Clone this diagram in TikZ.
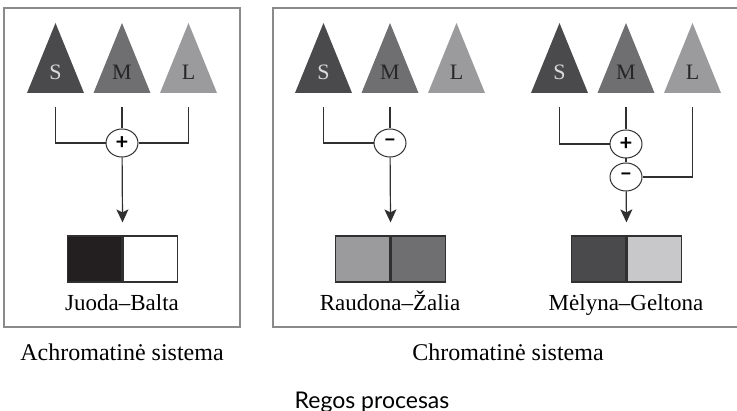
\documentclass[tikz,border=0pt]{standalone}
\usepackage{fontspec}
\setmainfont{Liberation Serif}
\newfontfamily\gillfont{Lato}
\usetikzlibrary{arrows.meta, positioning, shapes.geometric}

\definecolor{coneS}{HTML}{4A4A4C}
\definecolor{coneM}{HTML}{6F6F71}
\definecolor{coneL}{HTML}{9B9B9D}
\definecolor{swBlack}{HTML}{231F20}
\definecolor{swLight}{HTML}{C8C8CA}
\definecolor{frameGray}{HTML}{8A8A8A}
\definecolor{wireGray}{HTML}{303030}

\begin{document}
\begin{tikzpicture}[
    x=0.5pt, y=-0.5pt,
    >={Stealth[length=6.5pt, width=6pt, inset=1.5pt]},
    font=\fontsize{11.5}{13}\selectfont,
    conetext/.style={font=\fontsize{11}{12}\selectfont, inner sep=0pt},
    sign/.style={draw=wireGray, ellipse, fill=white, line width=0.5pt, minimum width=16pt, minimum height=14pt, inner sep=0pt, font=\gillfont\bfseries\fontsize{11}{11}\selectfont},
    wire/.style={draw=wireGray, line width=0.6pt},
    main/.style={->, wire, shorten >=6.5pt},
    swatch/.style={draw=wireGray, line width=0.6pt, minimum width=27.25pt, minimum height=23pt, inner sep=0pt},
    frame/.style={draw=frameGray, line width=0.6pt},
    pairlabel/.style={anchor=base},
    caption/.style={font=\fontsize{12}{14}\selectfont}
]
\useasboundingbox (0,0) rectangle (737,411);

% --------------------------------------------------------------------------
% Frames
% --------------------------------------------------------------------------
\draw[frame] (4,8) rectangle (240,327);
\draw[frame] (273,8) rectangle (738,327);

% --------------------------------------------------------------------------
% Achromatic system
% --------------------------------------------------------------------------
\fill[coneS] (27,93) -- (84,93) -- (55.5,23) -- cycle;
\fill[coneM] (93.5,93) -- (150.5,93) -- (122,23) -- cycle;
\fill[coneL] (160,93) -- (217,93) -- (188.5,23) -- cycle;
\node[conetext, text=white!85!black] (aS) at (55.5,72) {S};
\node[conetext, text=black!85] (aM) at (122,72) {M};
\node[conetext, text=black!85] (aL) at (188.5,72) {L};

\coordinate (aSt) at (55.5,107);
\coordinate (aMt) at (122,107);
\coordinate (aLt) at (188.5,107);

\node[sign] (aPlus) at (122,143) {+};

\draw[wire] (aSt) |- (aPlus);
\draw[wire] (aMt) -- (aPlus);
\draw[wire] (aLt) |- (aPlus);

\node[swatch, fill=swBlack] (aBlack) at (94.75,259) {};
\node[swatch, fill=white, right=0pt of aBlack] (aWhite) {};
\draw[main] (aPlus) -- (aBlack.north east);

\node[pairlabel] (aName) at (122,310) {Juoda–Balta};

% --------------------------------------------------------------------------
% Chromatic system: red--green
% --------------------------------------------------------------------------
\fill[coneS] (295,93) -- (352,93) -- (323.5,23) -- cycle;
\fill[coneM] (361.5,93) -- (418.5,93) -- (390,23) -- cycle;
\fill[coneL] (428,93) -- (485,93) -- (456.5,23) -- cycle;
\node[conetext, text=white!85!black] (rS) at (323.5,72) {S};
\node[conetext, text=black!85] (rM) at (390,72) {M};
\node[conetext, text=black!85] (rL) at (456.5,72) {L};

\coordinate (rSt) at (323.5,107);
\coordinate (rMt) at (390,107);

\node[sign] (rMinus) at (390,143) {–};

\draw[wire] (rSt) |- (rMinus);
\draw[wire] (rMt) -- (rMinus);

\node[swatch, fill=coneL] (rRed) at (362.75,259) {};
\node[swatch, fill=coneM, right=0pt of rRed] (rGreen) {};
\draw[main] (rMinus) -- (rRed.north east);

\node[pairlabel] (rName) at (390,310) {Raudona–Žalia};

% --------------------------------------------------------------------------
% Chromatic system: blue--yellow
% --------------------------------------------------------------------------
\fill[coneS] (531,93) -- (588,93) -- (559.5,23) -- cycle;
\fill[coneM] (597.5,93) -- (654.5,93) -- (626,23) -- cycle;
\fill[coneL] (664,93) -- (721,93) -- (692.5,23) -- cycle;
\node[conetext, text=white!85!black] (bS) at (559.5,72) {S};
\node[conetext, text=black!85] (bM) at (626,72) {M};
\node[conetext, text=black!85] (bL) at (692.5,72) {L};

\coordinate (bSt) at (559.5,107);
\coordinate (bMt) at (626,107);
\coordinate (bLt) at (692.5,107);

\node[sign] (bPlus) at (626,144) {+};
\node[sign] (bMinus) at (626,177) {–};

\draw[wire] (bSt) |- (bPlus);
\draw[wire] (bMt) -- (bPlus);
\draw[wire] (bPlus) -- (bMinus);
\draw[wire] (bLt) |- (bMinus);

\node[swatch, fill=coneS] (bBlue) at (598.75,259) {};
\node[swatch, fill=swLight, right=0pt of bBlue] (bYellow) {};
\draw[main] (bMinus) -- (bBlue.north east);

\node[pairlabel] (bName) at (626,310) {Mėlyna–Geltona};

% --------------------------------------------------------------------------
% Captions
% --------------------------------------------------------------------------
\node[caption] (achrom) at (122,352) {Achromatinė sistema};
\node[caption] (chrom) at (508,352) {Chromatinė sistema};
\node[font=\gillfont\fontsize{11.5}{13}\selectfont] (title) at (372,402) {Regos procesas};

\end{tikzpicture}
\end{document}
